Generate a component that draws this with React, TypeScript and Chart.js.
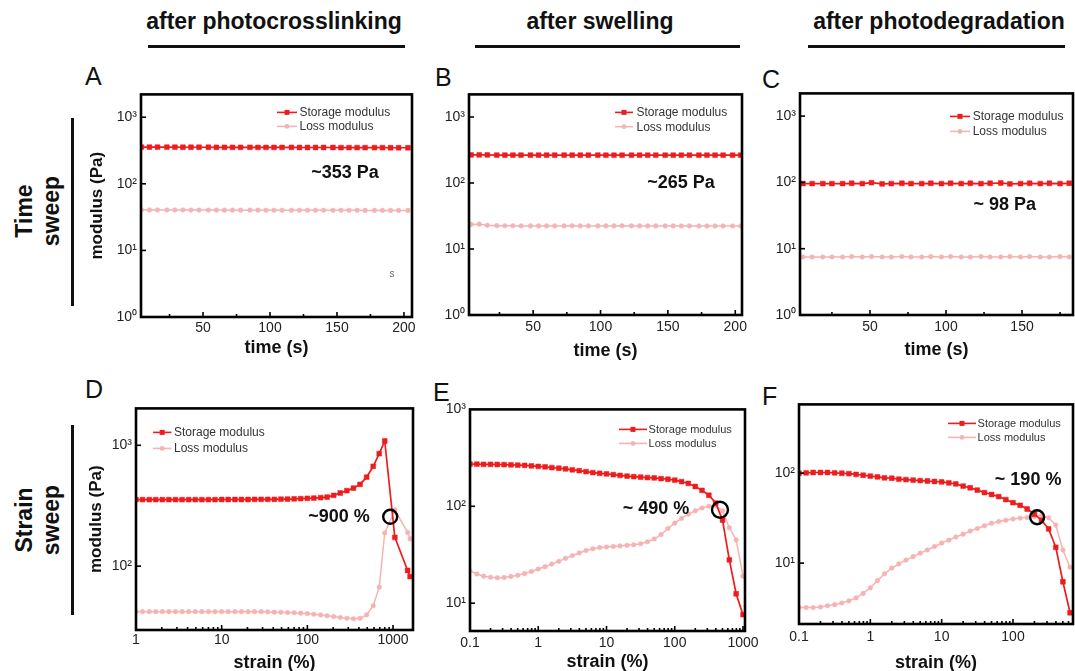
import React, { useEffect, useRef } from "react";
import { Chart, registerables } from "chart.js";

Chart.register(...registerables);

const FONT = "'Liberation Sans', Arial, Helvetica, sans-serif";
const RED = "#ee1c1c";
const PINK = "#f5b3b3";

// ---------------- Time sweep data (A, B, C) ----------------
const timeA = [4, 10, 16, 23, 29, 35, 41, 47, 54, 60, 66, 72, 78, 85, 91, 97, 103, 109, 116, 122, 128, 134, 140, 147, 153, 159, 165, 171, 178, 184, 190, 196, 203];
const storageA = [356, 356, 355, 355, 355, 354, 354, 354, 354, 353, 353, 353, 353, 353, 352, 352, 352, 352, 352, 351, 351, 351, 351, 351, 350, 350, 350, 349, 349, 349, 348, 348, 348];
const lossA = [40.6, 40.5, 40.5, 40.4, 40.4, 40.4, 40.3, 40.3, 40.3, 40.3, 40.2, 40.2, 40.2, 40.2, 40.2, 40.1, 40.1, 40.1, 40.1, 40.1, 40.1, 40.0, 40.0, 40.0, 40.0, 40.0, 40.0, 39.9, 39.9, 39.9, 39.9, 39.9, 39.9];

const timeB = [4, 10, 16, 23, 29, 35, 41, 48, 54, 60, 66, 73, 79, 85, 91, 98, 104, 110, 116, 123, 129, 135, 141, 148, 154, 160, 166, 173, 179, 185, 191, 198, 204];
const storageB = [266, 266, 266, 265, 265, 265, 265, 265, 265, 265, 265, 265, 265, 265, 265, 265, 264, 264, 264, 264, 264, 264, 264, 264, 264, 264, 264, 264, 264, 264, 264, 264, 264];
const lossB = [23.6, 23.8, 22.9, 22.6, 22.5, 22.5, 22.4, 22.4, 22.4, 22.4, 22.4, 22.4, 22.5, 22.4, 22.4, 22.4, 22.4, 22.4, 22.5, 22.4, 22.4, 22.4, 22.4, 22.4, 22.4, 22.3, 22.4, 22.3, 22.3, 22.3, 22.3, 22.3, 22.3];

const timeC = [6, 12, 19, 25, 32, 38, 45, 51, 58, 64, 71, 77, 84, 90, 97, 103, 110, 116, 123, 129, 136, 142, 149, 155, 162, 168, 175, 181];
const storageC = [96, 96, 96, 96, 96, 97, 96, 99, 95, 96, 97, 96, 96, 97, 96, 97, 96, 97, 96, 97, 98, 95, 96, 97, 96, 97, 96, 97];
const lossC = [7.5, 7.5, 7.5, 7.5, 7.5, 7.6, 7.5, 7.6, 7.5, 7.5, 7.6, 7.5, 7.5, 7.6, 7.5, 7.6, 7.5, 7.5, 7.6, 7.5, 7.5, 7.6, 7.5, 7.6, 7.5, 7.5, 7.6, 7.5];

// ---------------- Strain sweep data (D, E, F) ----------------
const strainD = [1, 1.19, 1.43, 1.7, 2.03, 2.42, 2.89, 3.45, 4.12, 4.92, 5.87, 7.01, 8.36, 10, 11.9, 14.3, 17.0, 20.3, 24.2, 28.9, 34.5, 41.2, 49.2, 58.7, 70.1, 83.6, 100, 119, 143, 170, 203, 242, 289, 345, 412, 492, 587, 690, 800, 1050, 1480, 1580];
const storageD = [355, 355, 355, 355, 355, 355, 355, 355, 355, 355, 355, 355, 355, 356, 356, 356, 356, 356, 357, 357, 357, 357, 358, 359, 360, 362, 364, 366, 369, 373, 385, 403, 421, 442, 475, 545, 670, 854, 1085, 173, 92, 82];
const lossD = [42, 42, 42, 42, 42, 42, 42, 42, 42, 42, 42, 42, 42, 42, 42, 42, 42, 42, 42, 42, 41.8, 41.6, 41.5, 41.3, 41.1, 40.8, 40.5, 40.0, 39.4, 38.8, 38.2, 37.6, 37.0, 36.7, 37.0, 39.5, 47, 67, 188, 292, 190, 168];

const strainE = [0.1, 0.126, 0.158, 0.2, 0.251, 0.316, 0.398, 0.501, 0.631, 0.794, 1, 1.26, 1.58, 2, 2.51, 3.16, 3.98, 5.01, 6.31, 7.94, 10, 12.6, 15.8, 20, 25.1, 31.6, 39.8, 50.1, 63.1, 79.4, 100, 126, 158, 200, 251, 316, 398, 501, 631, 794, 1000];
const storageE = [272, 272, 271, 271, 270, 269, 268, 266, 264, 261, 258, 255, 251, 247, 243, 238, 233, 228, 223, 219, 216, 212, 208, 205, 202, 200, 198, 196, 193, 190, 186, 180, 172, 160, 146, 130, 108, 72, 28, 12.5, 7.6];
const lossE = [21.5, 20, 19, 18.5, 18.3, 18.4, 18.8, 19.4, 20.2, 21.2, 22.5, 23.8, 25.3, 27, 29, 31, 33, 35, 36.5, 37.5, 38, 38.5, 39, 39.5, 40, 41, 43, 46, 51, 59, 67, 75, 83, 90, 96, 100, 102, 90, 60, 45, 19];

const strainF = [0.1, 0.126, 0.158, 0.2, 0.251, 0.316, 0.398, 0.501, 0.631, 0.794, 1, 1.26, 1.58, 2, 2.51, 3.16, 3.98, 5.01, 6.31, 7.94, 10, 12.6, 15.8, 20, 25.1, 31.6, 39.8, 50.1, 63.1, 79.4, 100, 126, 158, 200, 251, 316, 398, 501, 631];
const storageF = [100, 101, 102, 102, 102, 101, 100, 99, 97, 95, 93, 91, 89, 88, 86, 85, 84, 83, 82, 81, 80, 78, 76, 72, 69, 65, 61, 58, 55, 51, 47, 44, 40, 35, 30, 24, 15, 6.2, 2.8];
const lossF = [3.2, 3.2, 3.2, 3.25, 3.35, 3.45, 3.6, 3.8, 4.1, 4.6, 5.3, 6.4, 7.6, 8.8, 9.8, 10.8, 11.8, 12.9, 14, 15.3, 16.7, 18, 19.5, 21, 22.7, 24.3, 26, 27.8, 29, 30, 31, 31.7, 32.2, 33, 34, 32, 26.5, 14, 9];

// ---------------- Ticks & labels ----------------
const timeTicks = [50, 100, 150, 200];
const timeTicksC = [50, 100, 150];
const timeMinor = [25, 75, 125, 175];
const strainTicksD = [1, 10, 100, 1000];
const strainTicksE = [0.1, 1, 10, 100, 1000];
const strainTicksF = [0.1, 1, 10, 100];
const yTicksTime = [1, 10, 100, 1000];
const yTicksD = [100, 1000];
const yTicksE = [10, 100, 1000];
const yTicksF = [10, 100];

const headers = ["after photocrosslinking", "after swelling", "after photodegradation"];
const rowLabels = [["Time", "sweep"], ["Strain", "sweep"]];
const panelLetters = ["A", "B", "C", "D", "E", "F"];
const legendLabels = ["Storage modulus", "Loss modulus"];
const annotations = ["~353 Pa", "~265 Pa", "~ 98 Pa", "~900 %", "~ 490 %", "~ 190 %"];
const axisTitles = { time: "time (s)", strain: "strain (%)", modulus: "modulus (Pa)" };

const SUP: Record<number, string> = { 0: "\u2070", 1: "\u00B9", 2: "\u00B2", 3: "\u00B3" };

const PT = 12;
const PR = 22;

type Note = { x: number; y: number; text: string; small?: boolean };
type Circ = { x: number; y: number; r: number };
type Cfg = {
  rect: [number, number, number, number];
  xType: "linear" | "logarithmic";
  xr: [number, number];
  yr: [number, number];
  xTicks: number[];
  xMinor?: number[];
  yTicks: number[];
  xTitle: string;
  yTitle?: string;
  xs: number[];
  g1: number[];
  g2: number[];
  yw: number;
  xh: number;
  tpad: number;
  legend: { dx: number; dy: number; len: number; gap: number; tx: number; size: number };
  notes: Note[];
  circles: Circ[];
};

const panels: Cfg[] = [
  {
    rect: [141, 94, 412, 317], xType: "linear", xr: [3.7, 206], yr: [1, 2200],
    xTicks: timeTicks, xMinor: timeMinor, yTicks: yTicksTime, xTitle: axisTitles.time, yTitle: axisTitles.modulus,
    xs: timeA, g1: storageA, g2: lossA, yw: 58, xh: 46, tpad: 3,
    legend: { dx: 136, dy: 18, len: 20, gap: 14, tx: 2.5, size: 12 },
    notes: [{ x: 156, y: 146, text: annotations[0] }, { x: 191, y: 4.45, text: "s", small: true }],
    circles: [],
  },
  {
    rect: [469, 94, 742, 315], xType: "linear", xr: [2.4, 205], yr: [1, 2200],
    xTicks: timeTicks, xMinor: timeMinor, yTicks: yTicksTime, xTitle: axisTitles.time,
    xs: timeB, g1: storageB, g2: lossB, yw: 58, xh: 51, tpad: 4,
    legend: { dx: 146, dy: 18, len: 18, gap: 14.3, tx: 3.5, size: 12 },
    notes: [{ x: 159.7, y: 99, text: annotations[1] }],
    circles: [],
  },
  {
    rect: [800, 93, 1073, 315], xType: "linear", xr: [4, 183.5], yr: [1, 2200],
    xTicks: timeTicksC, xMinor: timeMinor, yTicks: yTicksTime, xTitle: axisTitles.time,
    xs: timeC, g1: storageC, g2: lossC, yw: 58, xh: 50, tpad: 4,
    legend: { dx: 150, dy: 23, len: 20, gap: 15, tx: 2.7, size: 12 },
    notes: [{ x: 138.6, y: 45.6, text: annotations[2] }],
    circles: [],
  },
  {
    rect: [136, 408, 413, 630], xType: "logarithmic", xr: [1, 1710], yr: [29.6, 2020],
    xTicks: strainTicksD, yTicks: yTicksD, xTitle: axisTitles.strain, yTitle: axisTitles.modulus,
    xs: strainD, g1: storageD, g2: lossD, yw: 54, xh: 48, tpad: 2,
    legend: { dx: 17, dy: 24, len: 18.4, gap: 16, tx: 2.6, size: 12 },
    notes: [{ x: 234, y: 256, text: annotations[3] }],
    circles: [{ x: 927, y: 256, r: 7 }],
  },
  {
    rect: [470, 409, 745, 631], xType: "logarithmic", xr: [0.1, 1070], yr: [5.16, 1000],
    xTicks: strainTicksE, yTicks: yTicksE, xTitle: axisTitles.strain,
    xs: strainE, g1: storageE, g2: lossE, yw: 58, xh: 46, tpad: 4,
    legend: { dx: 149, dy: 20, len: 28, gap: 14, tx: 1.6, size: 11 },
    notes: [{ x: 53, y: 94.4, text: annotations[4] }],
    circles: [{ x: 460, y: 92, r: 8 }],
  },
  {
    rect: [799, 404, 1073, 624], xType: "logarithmic", xr: [0.1, 694], yr: [2.1, 584],
    xTicks: strainTicksF, yTicks: yTicksF, xTitle: axisTitles.strain,
    xs: strainF, g1: storageF, g2: lossF, yw: 58, xh: 54, tpad: 5,
    legend: { dx: 149, dy: 19, len: 28, gap: 14, tx: 1.6, size: 11 },
    notes: [{ x: 163, y: 83.6, text: annotations[5] }],
    circles: [{ x: 218, y: 32.4, r: 7 }],
  },
];

function logMinor(min: number, max: number): number[] {
  const out: number[] = [];
  for (let k = Math.floor(Math.log10(min)); k <= Math.ceil(Math.log10(max)); k++) {
    for (let m = 2; m <= 9; m++) {
      const v = m * Math.pow(10, k);
      if (v > min && v < max) out.push(v);
    }
  }
  return out;
}

function fmtX(v: number): string {
  if (v < 1) return String(Math.round(v * 10) / 10);
  return String(Math.round(v));
}

function makePlugin(cfg: Cfg) {
  return {
    id: "decor",
    afterDraw(chart: any) {
      const { ctx, chartArea: ca, scales } = chart;
      const xs = scales.x;
      const ys = scales.y;
      ctx.save();
      const seg = (x1: number, y1: number, x2: number, y2: number) => {
        ctx.beginPath();
        ctx.moveTo(x1, y1);
        ctx.lineTo(x2, y2);
        ctx.stroke();
      };
      // inward ticks
      ctx.strokeStyle = "#000";
      ctx.lineWidth = 1.6;
      for (const v of cfg.xTicks) {
        const px = xs.getPixelForValue(v);
        if (px > ca.left + 1 && px < ca.right - 1) seg(px, ca.bottom, px, ca.bottom - 5);
      }
      const minors = cfg.xType === "logarithmic" ? logMinor(cfg.xr[0], cfg.xr[1]) : cfg.xMinor || [];
      for (const v of minors) {
        const px = xs.getPixelForValue(v);
        if (px > ca.left + 1 && px < ca.right - 1) seg(px, ca.bottom, px, ca.bottom - 3);
      }
      for (const v of cfg.yTicks) {
        const py = ys.getPixelForValue(v);
        if (py > ca.top + 1 && py < ca.bottom - 1) seg(ca.left, py, ca.left + 5, py);
      }
      // frame
      ctx.lineWidth = 2.6;
      ctx.strokeRect(ca.left, ca.top, ca.right - ca.left, ca.bottom - ca.top);

      // legend
      const lg = cfg.legend;
      const x0 = ca.left + lg.dx;
      const rows = [
        { y: ca.top + lg.dy, color: RED, rect: true, label: legendLabels[0] },
        { y: ca.top + lg.dy + lg.gap, color: PINK, rect: false, label: legendLabels[1] },
      ];
      for (const r of rows) {
        ctx.strokeStyle = r.color;
        ctx.lineWidth = 1.6;
        seg(x0, r.y, x0 + lg.len, r.y);
        ctx.fillStyle = r.color;
        const cx = x0 + lg.len / 2;
        if (r.rect) {
          ctx.fillRect(cx - 2.5, r.y - 2.5, 5, 5);
        } else {
          ctx.beginPath();
          ctx.arc(cx, r.y, 2.4, 0, Math.PI * 2);
          ctx.fill();
        }
        ctx.fillStyle = "#333";
        ctx.font = `${lg.size}px ${FONT}`;
        ctx.textAlign = "left";
        ctx.textBaseline = "middle";
        ctx.fillText(r.label, x0 + lg.len + lg.tx, r.y + 0.5);
      }

      // annotations
      for (const n of cfg.notes) {
        const px = xs.getPixelForValue(n.x);
        const py = ys.getPixelForValue(n.y);
        ctx.textAlign = "center";
        ctx.textBaseline = "middle";
        if (n.small) {
          ctx.fillStyle = "#666";
          ctx.font = `10px ${FONT}`;
        } else {
          ctx.fillStyle = "#111";
          ctx.font = `bold 18px ${FONT}`;
        }
        ctx.fillText(n.text, px, py);
      }
      ctx.strokeStyle = "#000";
      ctx.lineWidth = 2.4;
      for (const c of cfg.circles) {
        const px = xs.getPixelForValue(c.x);
        const py = ys.getPixelForValue(c.y);
        ctx.beginPath();
        ctx.arc(px, py, c.r, 0, Math.PI * 2);
        ctx.stroke();
      }
      ctx.restore();
    },
  };
}

function Panel({ cfg }: { cfg: Cfg }) {
  const ref = useRef<HTMLCanvasElement | null>(null);
  const [l, t, r, b] = cfg.rect;
  const w = r - l + cfg.yw + PR;
  const h = b - t + PT + cfg.xh;

  useEffect(() => {
    const canvas = ref.current;
    if (!canvas) return;
    const chart = new Chart(canvas, {
      type: "line",
      data: {
        datasets: [
          {
            label: legendLabels[0],
            data: cfg.xs.map((x, i) => ({ x, y: cfg.g1[i] })),
            borderColor: RED,
            backgroundColor: RED,
            pointBackgroundColor: RED,
            pointBorderColor: RED,
            pointStyle: "rect",
            pointRadius: 3.4,
            pointBorderWidth: 0.5,
            borderWidth: 1.7,
            tension: 0,
          },
          {
            label: legendLabels[1],
            data: cfg.xs.map((x, i) => ({ x, y: cfg.g2[i] })),
            borderColor: PINK,
            backgroundColor: PINK,
            pointBackgroundColor: PINK,
            pointBorderColor: PINK,
            pointStyle: "circle",
            pointRadius: 2.3,
            pointBorderWidth: 0.5,
            borderWidth: 1.5,
            tension: 0,
          },
        ],
      },
      options: {
        responsive: false,
        animation: false,
        events: [],
        layout: { padding: { top: PT, right: PR, left: 0, bottom: 0 } },
        plugins: { legend: { display: false }, tooltip: { enabled: false } },
        scales: {
          x: {
            type: cfg.xType,
            min: cfg.xr[0],
            max: cfg.xr[1],
            grid: { display: false, drawTicks: false },
            border: { display: false },
            afterBuildTicks: (s: any) => {
              s.ticks = cfg.xTicks.map((v) => ({ value: v }));
            },
            afterFit: (s: any) => {
              s.height = cfg.xh;
            },
            ticks: {
              autoSkip: false,
              maxRotation: 0,
              padding: cfg.tpad,
              color: "#222",
              font: { family: FONT, size: 14 },
              callback: (v: any) => fmtX(Number(v)),
            },
            title: {
              display: true,
              text: cfg.xTitle,
              color: "#111",
              font: { family: FONT, size: 18, weight: "bold" },
              padding: { top: 4, bottom: 4 },
            },
          },
          y: {
            type: "logarithmic",
            min: cfg.yr[0],
            max: cfg.yr[1],
            grid: { display: false, drawTicks: false },
            border: { display: false },
            afterBuildTicks: (s: any) => {
              s.ticks = cfg.yTicks.map((v) => ({ value: v }));
            },
            afterFit: (s: any) => {
              s.width = cfg.yw;
            },
            ticks: {
              autoSkip: false,
              padding: 4,
              color: "#222",
              font: { family: FONT, size: 14 },
              callback: (v: any) => "10" + SUP[Math.round(Math.log10(Number(v)))],
            },
            title: {
              display: !!cfg.yTitle,
              text: cfg.yTitle || "",
              color: "#111",
              font: { family: FONT, size: 17, weight: "bold" },
              padding: { top: 4, bottom: 4 },
            },
          },
        },
      },
      plugins: [makePlugin(cfg)],
    } as any);
    return () => chart.destroy();
  }, []);

  return (
    <canvas
      ref={ref}
      width={w}
      height={h}
      style={{ position: "absolute", left: l - cfg.yw, top: t - PT, width: w, height: h, display: "block" }}
    />
  );
}

const headerPos = [
  { cx: 274, line: [148, 405] },
  { cx: 600, line: [475, 740] },
  { cx: 939, line: [808, 1065] },
];
const rowPos = [
  { cy: 211, line: [118, 306] },
  { cy: 520, line: [425, 615] },
];
const letterPos = [
  [85, 64], [435, 65], [762, 67], [85, 377], [433, 380], [762, 384],
];

export default function App() {
  return (
    <div
      style={{
        position: "fixed",
        left: 0,
        top: 0,
        width: 1075,
        height: 671,
        overflow: "hidden",
        background: "#fff",
        fontFamily: FONT,
        color: "#111",
      }}
    >
      {headers.map((h, i) => (
        <React.Fragment key={h}>
          <div
            style={{
              position: "absolute",
              left: headerPos[i].cx - 200,
              width: 400,
              top: 10,
              textAlign: "center",
              fontWeight: "bold",
              fontSize: 23,
              lineHeight: "23px",
              whiteSpace: "nowrap",
            }}
          >
            {h}
          </div>
          <div
            style={{
              position: "absolute",
              left: headerPos[i].line[0],
              width: headerPos[i].line[1] - headerPos[i].line[0],
              top: 45,
              height: 3,
              background: "#111",
            }}
          />
        </React.Fragment>
      ))}
      {rowLabels.map((lines, i) => (
        <React.Fragment key={i}>
          <div
            style={{
              position: "absolute",
              left: 38 - 100,
              top: rowPos[i].cy - 30,
              width: 200,
              height: 60,
              transform: "rotate(-90deg)",
              textAlign: "center",
              fontWeight: "bold",
              fontSize: 23,
              lineHeight: "27px",
              display: "flex",
              flexDirection: "column",
              justifyContent: "center",
            }}
          >
            {lines.map((s) => (
              <div key={s}>{s}</div>
            ))}
          </div>
          <div
            style={{
              position: "absolute",
              left: 71,
              width: 3,
              top: rowPos[i].line[0],
              height: rowPos[i].line[1] - rowPos[i].line[0],
              background: "#111",
            }}
          />
        </React.Fragment>
      ))}
      {panelLetters.map((L, i) => (
        <div
          key={L}
          style={{
            position: "absolute",
            left: letterPos[i][0],
            top: letterPos[i][1],
            fontSize: 25,
            lineHeight: "25px",
            color: "#111",
          }}
        >
          {L}
        </div>
      ))}
      {panels.map((p, i) => (
        <Panel key={i} cfg={p} />
      ))}
    </div>
  );
}
